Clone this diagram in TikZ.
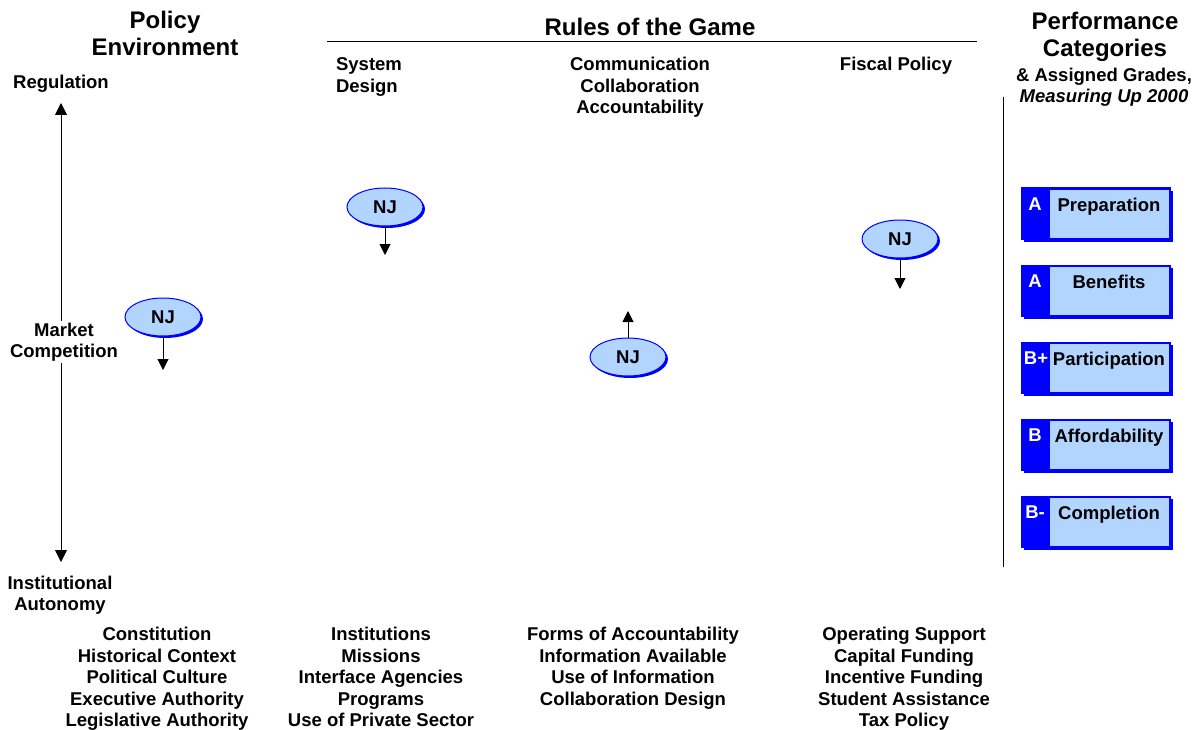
\documentclass[tikz,border=0pt]{standalone}
\usepackage{fontspec}
\setmainfont{Liberation Sans}
\usetikzlibrary{arrows.meta,shadows,shapes.geometric}
\definecolor{pblue}{RGB}{0,0,255}
\definecolor{plight}{RGB}{178,213,255}
\tikzset{
  txt/.style={font=\fontsize{18.5}{21.5}\selectfont\bfseries, align=center, inner sep=0pt},
  one/.style={text height=13.5pt, text depth=4pt},
  hdr/.style={font=\fontsize{24}{27}\selectfont\bfseries, align=center, inner sep=0pt},
  nj/.style={ellipse, draw=pblue, line width=1pt, fill=plight, minimum width=76pt, minimum height=38pt, inner sep=0pt,
     font=\fontsize{18.5}{21.5}\selectfont\bfseries,
     drop shadow={shadow xshift=2pt, shadow yshift=-2pt, fill=pblue, opacity=1}},
  njarrow/.style={-{Triangle[length=11pt,width=11pt]}, line width=1pt},
  axarrow/.style={{Triangle[length=12pt,width=12pt]}-{Triangle[length=12pt,width=12pt]}, line width=1pt},
  gradeout/.style={rectangle, draw=pblue, fill=pblue, line width=1pt, minimum width=149pt, minimum height=51pt, inner sep=0pt,
     drop shadow={shadow xshift=3pt, shadow yshift=-3pt, fill=pblue, opacity=1}},
  gradein/.style={rectangle, draw=pblue, fill=plight, line width=0.8pt, minimum width=120pt, minimum height=49pt, inner sep=0pt},
  gradelbl/.style={txt, one, text=white},
}
\begin{document}
\begin{tikzpicture}[x=1pt,y=-1pt]
\useasboundingbox (0,0) rectangle (1199,730);
% headers
\node[hdr] (h1) at (165,33.5) {Policy\\Environment};
\node[hdr] (h2) at (650,27) {Rules of the Game};
\coordinate (l1) at (327,41);
\coordinate (l2) at (977,41);
\draw[line width=0.8pt] (l1) -- (l2);
\node[hdr] (h3a) at (1105,37) {Performance\\Categories};
\node[txt] (h3b) at (1104,87) {\& Assigned Grades,\\\itshape Measuring Up 2000};
% sub headers
\node[txt, align=left] (s1) at (369,77) {System\\Design};
\node[txt] (s2) at (640,87.5) {Communication\\Collaboration\\Accountability};
\node[txt, one] (s3) at (896,66) {Fiscal Policy};
% axis
\node[txt, one] (reg) at (61,84) {Regulation};
\node[txt] (inst) at (60,595) {Institutional\\Autonomy};
\coordinate (at) at (61,103);
\coordinate (ab) at (61,562);
\draw[axarrow] (at) -- (ab);
\node[txt, fill=white, inner sep=2pt] (mkt) at (64,342) {Market\\Competition};
% divider
\coordinate (d1) at (1003,97);
\coordinate (d2) at (1003,567);
\draw[line width=0.8pt] (d1) -- (d2);
% NJ ellipses
\node[nj] (nj1) at (163,317) {NJ};
\coordinate (e1) at (163,370);
\draw[njarrow] (nj1.south) -- (e1);
\node[nj] (nj2) at (385,207) {NJ};
\coordinate (e2) at (385,255);
\draw[njarrow] (nj2.south) -- (e2);
\node[nj] (nj3) at (628,357) {NJ};
\coordinate (e3) at (628,311);
\draw[njarrow] (nj3.north) -- (e3);
\node[nj] (nj4) at (900,239) {NJ};
\coordinate (e4) at (900,289);
\draw[njarrow] (nj4.south) -- (e4);
% grade boxes
\foreach \i/\g/\t/\gx [count=\k from 0] in {1/A/Preparation/1035, 2/A/Benefits/1035, 3/B+/Participation/1036, 4/B/Affordability/1035, 5/B-/Completion/1035}{
  \pgfmathsetmacro{\yc}{213.5+77*\k}
  \pgfmathsetmacro{\yt}{207+77*\k}
  \pgfmathsetmacro{\yl}{206+77*\k}
  \node[gradeout] (go\i) at (1095.5,\yc) {};
  \node[gradein] (gi\i) at (1109,\yc) {};
  \node[gradelbl] (gl\i) at (\gx,\yl) {\g};
  \node[txt, one] (gt\i) at (1109,\yt) {\t};
}
% bottom lists
\node[txt] (c1) at (157,679) {Constitution\\Historical Context\\Political Culture\\Executive Authority\\Legislative Authority};
\node[txt] (c2) at (381,677) {Institutions\\Missions\\Interface Agencies\\Programs\\Use of Private Sector};
\node[txt] (c3) at (633,668.5) {Forms of Accountability\\Information Available\\Use of Information\\Collaboration Design};
\node[txt] (c4) at (904,679) {Operating Support\\Capital Funding\\Incentive Funding\\Student Assistance\\Tax Policy};
\end{tikzpicture}
\end{document}
